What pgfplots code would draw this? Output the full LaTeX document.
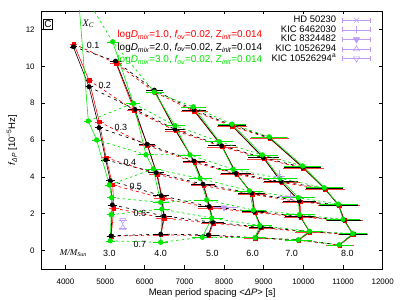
\documentclass[border=0pt]{standalone}
\usepackage{fontspec}
\setmainfont{Liberation Sans}
\newfontfamily\serifit{Liberation Serif}
\usepackage{pgfplots}
\usepackage{pgfplotstable}
\pgfplotsset{compat=1.18}

\definecolor{obs}{RGB}{190,155,245}
\definecolor{gr}{RGB}{0,232,0}
\definecolor{rd}{RGB}{255,0,0}

\pgfplotsset{
  obsleg/.style={legend image code/.code={
    \draw[obs, line width=0.6bp] (0bp,0bp) -- (28bp,0bp) (0bp,-2.5bp) -- (0bp,2.5bp) (28bp,-2.5bp) -- (28bp,2.5bp);
    \draw[obs, line width=0.6bp, #1] plot coordinates {(14bp,0bp)};
  }},
}

% logDmix = 1.0 (red)
\pgfplotstableread{
m c x ex y
3 1 4207 45 11.22
3 2 4593 55 9.24
3 3 4853 65 6.98
3 4 5022 65 5.04
3 5 5190 65 3.56
3 6 5223 65 2.30
3 7 5150 65 0.78
4 1 5274 110 10.16
4 2 5735 145 7.60
4 3 6070 155 5.70
4 4 6316 165 4.14
4 5 6443 165 2.84
4 6 6493 165 1.76
4 7 6405 155 0.85
5 1 6250 175 8.60
5 2 6780 220 6.50
5 3 7260 250 4.78
5 4 7490 265 3.52
5 5 7650 265 2.32
5 6 7730 250 1.48
5 7 7610 230 0.82
6 1 7250 285 7.55
6 2 7960 330 5.63
6 3 8320 375 4.13
6 4 8715 320 3.05
6 5 8780 285 2.06
6 6 8950 275 1.23
6 7 8790 240 0.68
7 1 8205 330 6.75
7 2 9010 370 4.98
7 3 9455 420 3.69
7 4 9915 395 2.64
7 5 9930 365 1.82
7 6 10165 320 1.00
7 7 9880 285 0.56
8 1 9150 440 6.08
8 2 10000 460 4.47
8 3 10545 460 3.34
8 4 10900 485 2.44
8 5 11040 420 1.63
8 6 11260 330 0.88
8 7 10915 300 0.30
}\tabR

% logDmix = 2.0 (black)
\pgfplotstableread{
m c x ex y
3 1 4197 40 11.06
3 2 4593 50 8.89
3 3 4845 60 6.67
3 4 5014 60 4.92
3 5 5130 60 3.79
3 6 5181 60 2.48
3 7 5148 60 0.80
4 1 5266 100 10.28
4 2 5753 130 7.66
4 3 6056 140 5.77
4 4 6291 150 4.23
4 5 6417 150 2.98
4 6 6484 150 1.88
4 7 6401 140 0.89
5 1 6240 160 8.71
5 2 6762 200 6.58
5 3 7241 230 4.86
5 4 7468 240 3.60
5 5 7627 240 2.39
5 6 7713 230 1.54
5 7 7602 210 0.85
6 1 7241 260 7.63
6 2 7940 300 5.69
6 3 8300 340 4.19
6 4 8696 290 3.11
6 5 8762 260 2.11
6 6 8931 250 1.27
6 7 8780 220 0.70
7 1 8192 300 6.81
7 2 8990 335 5.04
7 3 9435 380 3.74
7 4 9897 360 2.69
7 5 9915 330 1.86
7 6 10150 290 1.03
7 7 9872 260 0.58
8 1 9140 400 6.13
8 2 9982 420 4.52
8 3 10527 420 3.38
8 4 10880 440 2.48
8 5 11024 380 1.66
8 6 11243 300 0.90
8 7 10906 270 0.31
}\tabB

% logDmix = 3.0 (green)
\pgfplotstableread{
m c x ex y
3 1 4300 40 14.50
3 2 4576 50 7.03
3 3 4787 60 6.00
3 4 5105 60 3.56
3 5 5165 60 2.87
3 6 5150 60 1.95
3 7 5130 60 0.53
4 1 5190 100 11.33
4 2 5711 130 7.99
4 3 6030 140 5.20
4 4 6215 150 4.43
4 5 6400 150 2.62
4 6 6430 150 2.25
4 7 6400 140 0.45
5 1 6240 160 8.60
5 2 6762 200 6.78
5 3 7140 230 5.19
5 4 7393 240 3.92
5 5 7560 240 2.75
5 6 7690 230 1.76
5 7 7450 210 0.72
6 1 7224 260 7.80
6 2 7880 300 5.91
6 3 8232 340 4.41
6 4 8636 290 3.24
6 5 8740 260 2.20
6 6 8900 250 1.36
6 7 8780 220 0.70
7 1 8200 300 6.86
7 2 8965 335 5.19
7 3 9410 380 3.92
7 4 9870 360 2.87
7 5 9900 330 1.95
7 6 10150 290 1.05
7 7 9872 260 0.58
8 1 9140 400 6.17
8 2 9982 420 4.59
8 3 10527 420 3.41
8 4 10880 440 2.52
8 5 11000 380 1.69
8 6 11243 300 0.92
8 7 10906 270 0.31
}\tabG

\begin{document}
\begin{tikzpicture}
\path[use as bounding box] (-41.7bp,-31bp) rectangle (358.3bp,269bp);
\begin{axis}[
  at={(0,0)}, anchor=south west,
  scale only axis, width=341bp, height=258bp,
  xmin=3400, xmax=12000, ymin=-1, ymax=13,
  xtick={4000,5000,...,12000}, ytick={0,2,...,12},
  scaled x ticks=false,
  unbounded coords=discard,
  tick align=inside, major tick length=3.5bp,
  tick style={black, line width=0.6bp},
  axis line style={line width=0.8bp},
  /pgf/number format/assume math mode=true,
  /pgf/number format/1000 sep={},
  ticklabel style={font=\fontsize{8}{9}\selectfont},
  xticklabel style={yshift=-6bp},
  yticklabel style={xshift=-3.5bp},
  label style={font=\fontsize{9.5}{11}\selectfont},
  xlabel={Mean period spacing <{\itshape ΔP}> [s]},
  ylabel={{\itshape f}\textsubscript{\itshape ΔP} [10\textsuperscript{−5}Hz]},
  xlabel style={at={(axis description cs:0.5,-0.0919)}, anchor=center},
  ylabel style={at={(axis description cs:-0.087,0.5)}, anchor=center},
  legend style={draw=none, fill=none, at={(rel axis cs:0.9657,0.981)}, anchor=north east,
    inner sep=0pt, font=\fontsize{9.5}{10}\selectfont, row sep=1.2bp, column sep=6bp,
    nodes={inner sep=0pt, text height=6.6bp, text depth=1.8bp}},
  legend plot pos=right,
  legend cell align=right,
]

% ---------- red: logDmix = 1.0 ----------
\pgfplotsinvokeforeach{1,...,7}{
  \addplot[forget plot, rd, line width=0.7bp, dash pattern=on 3bp off 3bp, no marks]
    table[x expr={\thisrow{c}==#1 ? \thisrow{x} : nan}, y=y] {\tabR};
}
\pgfplotsinvokeforeach{3,...,8}{
  \addplot[forget plot, rd, line width=0.6bp, mark=square*, mark size=1.8bp, mark options={solid, fill=rd},
    error bars/.cd, x dir=both, x explicit, error bar style={rd!75, line width=0.5bp}, error mark options={rd!75, mark size=2bp, line width=0.5bp}]
    table[x expr={\thisrow{m}==#1 ? \thisrow{x} : nan}, y=y, x error=ex] {\tabR};
}

% ---------- black: logDmix = 2.0 ----------
\pgfplotsinvokeforeach{1,...,7}{
  \addplot[forget plot, black, line width=0.7bp, dash pattern=on 3bp off 4bp, no marks]
    table[x expr={\thisrow{c}==#1 ? \thisrow{x} : nan}, y=y] {\tabB};
}
\pgfplotsinvokeforeach{3,...,8}{
  \addplot[forget plot, black, line width=0.6bp, mark=*, mark size=2.1bp, mark options={solid, fill=black},
    error bars/.cd, x dir=both, x explicit, error bar style={black, line width=0.5bp}, error mark options={black, mark size=2bp, line width=0.5bp}]
    table[x expr={\thisrow{m}==#1 ? \thisrow{x} : nan}, y=y, x error=ex] {\tabB};
}

% ---------- green: logDmix = 3.0 ----------
\pgfplotsinvokeforeach{1,...,7}{
  \addplot[forget plot, gr, line width=0.7bp, dash pattern=on 2.5bp off 3bp, no marks]
    table[x expr={\thisrow{c}==#1 ? \thisrow{x} : nan}, y=y] {\tabG};
}
\pgfplotsinvokeforeach{3,...,8}{
  \addplot[forget plot, gr, line width=0.6bp, mark=*, mark size=2.3bp, mark options={solid, fill=gr},
    error bars/.cd, x dir=both, x explicit, error bar style={gr, line width=0.5bp}, error mark options={gr, mark size=2bp, line width=0.5bp}]
    table[x expr={\thisrow{m}==#1 ? \thisrow{x} : nan}, y=y, x error=ex] {\tabG};
}

% ---------- observed stars ----------
\addplot[obs, only marks, mark=x, mark size=3bp, line width=0.6bp,
  obsleg={mark=x, mark size=3.5bp},
  error bars/.cd, x dir=both, x explicit, y dir=both, y explicit,
  error bar style={obs, line width=0.6bp}, error mark options={obs, mark size=2.5bp}]
  coordinates {(9393,4.05) +- (70,0.17)};
\addlegendentry{HD 50230}
\addplot[obs, only marks, mark=+, mark size=3bp, line width=0.6bp,
  obsleg={mark=+, mark size=3.5bp},
  error bars/.cd, x dir=both, x explicit,
  error bar style={obs, line width=0.6bp}, error mark options={obs, mark size=2.5bp}]
  coordinates {(9662,2.96) +- (230,0)};
\addlegendentry{KIC 6462030}
\addplot[obs, only marks, mark=triangle*, mark size=3.5bp, line width=0.6bp, mark options={rotate=180, fill=obs},
  obsleg={mark=triangle*, mark size=3.5bp, mark options={rotate=180, fill=obs}},
  error bars/.cd, x dir=both, x explicit,
  error bar style={obs, line width=0.6bp}, error mark options={obs, mark size=2.5bp}]
  coordinates {(8000,2.33) +- (300,0)};
\addlegendentry{KIC 8324482}
\addplot[obs, only marks, mark=triangle, mark size=3.5bp, line width=0.6bp,
  obsleg={mark=triangle, mark size=3.5bp},
  error bars/.cd, x dir=both, x explicit,
  error bar style={obs, line width=0.6bp}, error mark options={obs, mark size=2.5bp}]
  coordinates {(5443,1.23) +- (40,0)};
\addlegendentry{KIC 10526294}
\addplot[obs, only marks, mark=triangle, mark size=3.5bp, line width=0.6bp, mark options={rotate=180},
  obsleg={mark=triangle, mark size=3.5bp, mark options={rotate=180}},
  error bars/.cd, x dir=both, x explicit,
  error bar style={obs, line width=0.6bp}, error mark options={obs, mark size=2.5bp}]
  coordinates {(5443,1.64) +- (40,0)};
\addlegendentry{KIC 10526294\textsuperscript{a}}

% ---------- annotations ----------
\node[draw, line width=0.7bp, inner sep=0.6bp, minimum size=9.5bp, font=\fontsize{10}{10}\selectfont] at (axis cs:3559,12.27) {C};
\node[font=\serifit\itshape\fontsize{10}{10}\selectfont] at (axis cs:4575,12.32) {X\textsubscript{C}};

\node[anchor=west, text=rd, font=\fontsize{10}{10}\selectfont] at (axis cs:5223,11.69) {log{\itshape D}\textsubscript{\itshape mix}=1.0, {\itshape f}\textsubscript{\itshape ov}=0.02, Z\textsubscript{\itshape init}=0.014};
\node[anchor=west, text=black, font=\fontsize{10}{10}\selectfont] at (axis cs:5223,11.00) {log{\itshape D}\textsubscript{\itshape mix}=2.0, {\itshape f}\textsubscript{\itshape ov}=0.02, Z\textsubscript{\itshape init}=0.014};
\node[anchor=west, text=gr, font=\fontsize{10}{10}\selectfont] at (axis cs:5223,10.34) {log{\itshape D}\textsubscript{\itshape mix}=3.0, {\itshape f}\textsubscript{\itshape ov}=0.02, Z\textsubscript{\itshape init}=0.014};

\begin{scope}[every node/.style={anchor=west, font=\fontsize{9}{9}\selectfont}]
\node at (axis cs:4450,11.15) {0.1};
\node at (axis cs:4744,8.98) {0.2};
\node at (axis cs:5148,6.70) {0.3};
\node at (axis cs:5375,4.77) {0.4};
\node at (axis cs:5526,3.47) {0.5};
\node at (axis cs:5627,2.03) {0.6};
\node at (axis cs:5627,0.35) {0.7};
\end{scope}

\begin{scope}[every node/.style={font=\fontsize{9}{9}\selectfont}]
\node at (axis cs:5105,-0.14) {3.0};
\node at (axis cs:6400,-0.14) {4.0};
\node at (axis cs:7703,-0.14) {5.0};
\node at (axis cs:8720,-0.14) {6.0};
\node at (axis cs:9705,-0.14) {7.0};
\node at (axis cs:11108,-0.14) {8.0};
\end{scope}
\node[font=\serifit\itshape\fontsize{9}{9}\selectfont] at (axis cs:4197,-0.14) {M/M\textsubscript{Sun}};

\end{axis}
\end{tikzpicture}
\end{document}
